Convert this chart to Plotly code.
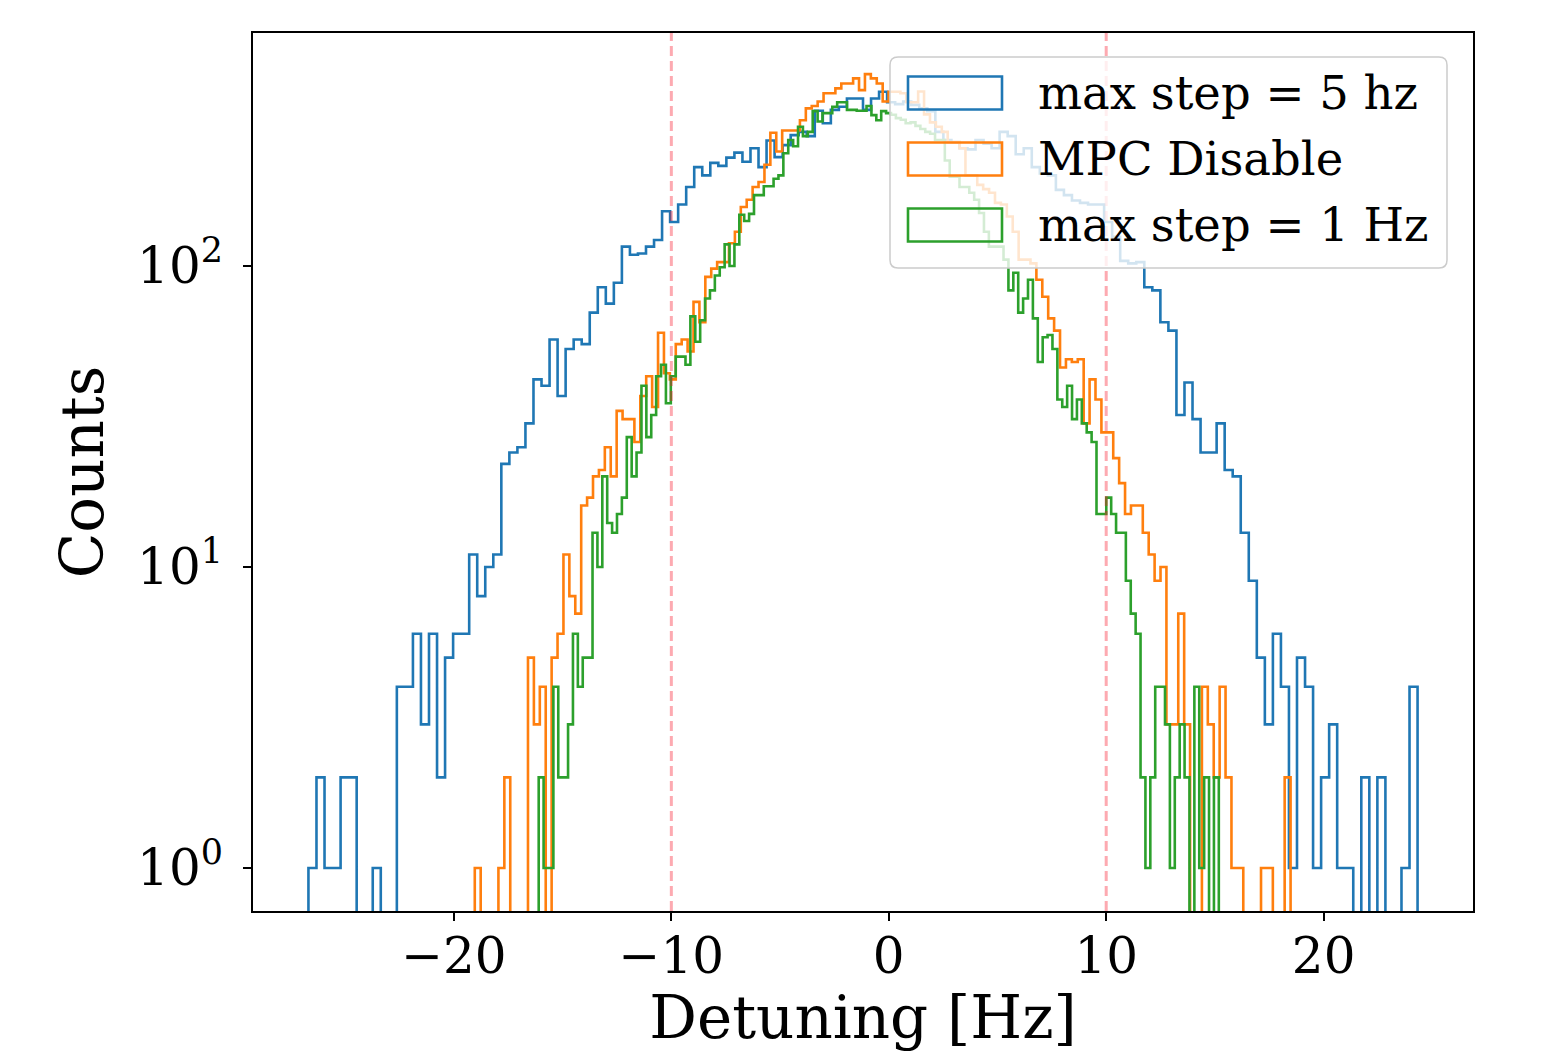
import numpy as np
import plotly.graph_objects as go

# ---------------- data ----------------
series_names = ["max step = 5 hz", "MPC Disable", "max step = 1 Hz"]
series_colors = ["#1f77b4", "#ff7f0e", "#2ca02c"]

# data extent (Hz) of each histogram; bins are equally spaced inside it
blue_range = (-26.69, 24.32)
orange_range = (-19.04, 18.48)
green_range = (-16.10, 15.18)

blue_counts = [
    1, 2, 1, 1, 2, 2, 0, 0, 1, 0, 0,
    4, 4, 6, 3, 6, 2, 5, 6, 6,
    11, 8, 10, 11, 22, 24, 25, 30, 42, 40, 57, 37, 53, 57, 55, 70, 85, 75, 88, 116,
    109, 110, 116, 122, 152, 140, 160, 183, 213, 200, 220, 215, 229, 238, 222, 246,
    213, 261, 230, 252, 272, 279, 270, 328, 298, 330, 338, 360, 360, 330, 360, 379,
    350, 345, 352, 343, 334, 327, 279, 262, 258, 246, 244, 262, 255, 246, 279, 270,
    235, 246, 213, 203, 200, 179, 172, 165, 162, 160, 160, 140, 125, 104, 102, 103,
    85, 83, 65, 61, 32, 41, 31, 24, 24, 30, 21, 20, 13, 9, 5, 3, 6, 4, 1, 5, 4, 1,
    2, 3, 1, 1, 0, 2, 0, 2, 0, 0, 1, 4,
]

orange_counts = [
    1, 0, 0, 0, 1, 2, 0, 0, 0, 5, 3, 4, 0, 5,
    6, 11, 8, 7, 16, 17, 20, 21, 25, 20, 33, 31, 31, 26, 37, 43, 34, 60,
    44, 42, 55, 57, 52, 76, 65, 92, 98, 103, 103, 119, 130, 157, 166, 183, 190,
    217, 277, 240, 282, 282, 282, 305, 334, 340, 352, 375, 375, 389, 404, 404, 420,
    384, 434, 420, 404, 352,
    379, 379, 375, 350, 350, 380, 319, 300, 290, 279, 258, 258, 246, 200, 200, 186,
    180, 175, 162, 160, 146, 130, 105, 105, 102, 90, 79, 67, 61, 46, 49, 48, 49, 30,
    42, 36, 28, 28, 23, 19, 15, 16, 16, 13, 11, 9, 10, 3, 3, 7, 3, 0, 0, 4, 3, 2, 4,
    2, 1, 1, 0, 0, 0, 1, 1, 0, 0, 2,
]

green_counts = [
    2, 1, 1, 4, 2, 2, 3, 6, 4, 5, 5,
    13, 10, 20, 14, 13, 15, 17, 27, 20, 24, 40, 27, 32, 43, 47, 35, 43, 50, 50, 47,
    68, 56, 66, 78, 83, 93, 99, 118, 100, 118, 148, 141, 149,
    172, 172, 184, 184, 195, 200, 237, 262, 250, 290, 270, 279,
    327, 302, 322, 322, 338, 350, 350, 330, 330, 328, 328, 340, 317, 305, 327,
    322, 318, 310, 306, 298, 300, 292, 285, 279, 275, 262, 262, 224, 198, 198, 183,
    183, 175, 166, 150, 130, 116, 116, 116, 105,
    83, 95, 70, 78, 90, 67, 48, 58, 59, 53, 36, 34, 40, 31, 36, 30, 28, 26,
    15, 15, 17, 15, 13, 13, 9, 7, 6,
    2, 1, 2, 4, 4, 3, 1, 2, 3, 2, 0, 4, 1, 2, 0, 2,
]

vline_positions = [-10, 10]
x_tick_vals = [-20, -10, 0, 10, 20]
y_tick_vals = [1, 10, 100]
y_tick_text = ["10<sup>0</sup>", "10<sup>1</sup>", "10<sup>2</sup>"]

x_range = [-29.24, 26.87]
y_log_range = [-0.1429, 2.774]

# ---------------- figure ----------------
# the page body has an 8 px margin: the figure starts at (8, 8) on screen
PAGE_OFF = 8
W, H = 1551 - PAGE_OFF, 1052 - PAGE_OFF
PL, PR, PT, PB = 253, 1473, 33, 911          # plot area on the screen
ML, MT = PL - PAGE_OFF, PT - PAGE_OFF
MR, MB = W - (PR - PAGE_OFF), H - (PB - PAGE_OFF)
PW, PH = PR - PL, PB - PT
FONT = "DejaVu Serif"

fig = go.Figure()

FLOOR = 1e-3  # zero counts drop off the bottom of the log axis
for counts, rng, color, name in zip(
    [blue_counts, orange_counts, green_counts],
    [blue_range, orange_range, green_range],
    series_colors, series_names,
):
    c = np.asarray(counts, dtype=float)
    edges = np.linspace(rng[0], rng[1], len(c) + 1)
    disp = np.where(c > 0, c, FLOOR)
    xs = np.concatenate([[edges[0]], edges[:-1], [edges[-1]]])
    ys = np.concatenate([[FLOOR], disp, [FLOOR]])
    fig.add_trace(go.Scatter(
        x=xs, y=ys, mode="lines", line=dict(color=color, width=2.6, shape="hv"),
        name=name, showlegend=False, hoverinfo="skip",
    ))

for xv in vline_positions:
    fig.add_shape(type="line", xref="x", yref="paper", x0=xv, x1=xv, y0=0, y1=1,
                  line=dict(color="rgba(250,20,40,0.36)", width=3, dash="10px,5px"),
                  layer="above")

# minor tick values for the log axis
minor_vals = [m * 10.0 ** d for d in range(-1, 3) for m in range(2, 10)]

axis_common = dict(showline=True, linecolor="black", linewidth=2, mirror=True,
                   ticks="outside", ticklen=8, tickwidth=2, tickcolor="black",
                   showgrid=False, zeroline=False, automargin=False,
                   tickfont=dict(family=FONT, size=50, color="black"))

fig.update_layout(
    width=W, height=H,
    margin=dict(l=ML, r=MR, t=MT, b=MB, autoexpand=False),
    paper_bgcolor="white", plot_bgcolor="white",
    showlegend=False,
    xaxis=dict(range=x_range, tickvals=x_tick_vals, ticklabelstandoff=-8, **axis_common,
               title=dict(text="Detuning [Hz]", standoff=16,
                          font=dict(family=FONT, size=59.5, color="black"))),
    yaxis=dict(type="log", range=y_log_range, tickvals=y_tick_vals, ticktext=y_tick_text,
               ticklabelstandoff=10, **axis_common,
               title=dict(text="Counts", standoff=14,
                          font=dict(family=FONT, size=59.5, color="black"))),
    yaxis2=dict(type="log", range=y_log_range, overlaying="y", anchor="x", side="left",
                tickvals=minor_vals, ticks="outside", ticklen=4, tickwidth=1.5,
                tickcolor="black", showticklabels=False, showgrid=False,
                zeroline=False, showline=False, automargin=False),
)

# ---------------- manual legend (matplotlib style) ----------------
def xp(px):
    return (px - PL) / PW

def yp(py):
    return (PB - py) / PH

bx0, bx1, by0, by1 = xp(890), xp(1447), yp(268), yp(57)
rx, ry = 8 / PW, 8 / PH
path = (f"M {bx0+rx},{by1} L {bx1-rx},{by1} Q {bx1},{by1} {bx1},{by1-ry} "
        f"L {bx1},{by0+ry} Q {bx1},{by0} {bx1-rx},{by0} L {bx0+rx},{by0} "
        f"Q {bx0},{by0} {bx0},{by0+ry} L {bx0},{by1-ry} Q {bx0},{by1} {bx0+rx},{by1} Z")
fig.add_shape(type="path", xref="paper", yref="paper", path=path,
              fillcolor="rgba(255,255,255,0.8)", line=dict(color="#cccccc", width=1.5),
              layer="above")

handle_centers = [93, 159, 225]
for cy, color, name in zip(handle_centers, series_colors, series_names):
    fig.add_shape(type="rect", xref="paper", yref="paper",
                  x0=xp(908), x1=xp(1002), y0=yp(cy + 16.5), y1=yp(cy - 16.5),
                  line=dict(color=color, width=2.6), fillcolor="rgba(0,0,0,0)",
                  layer="above")
    fig.add_annotation(xref="paper", yref="paper", x=xp(1036), y=yp(cy),
                       xanchor="left", yanchor="middle", showarrow=False,
                       text=name, font=dict(family=FONT, size=46.5, color="black"))

fig.write_html("out.html")
